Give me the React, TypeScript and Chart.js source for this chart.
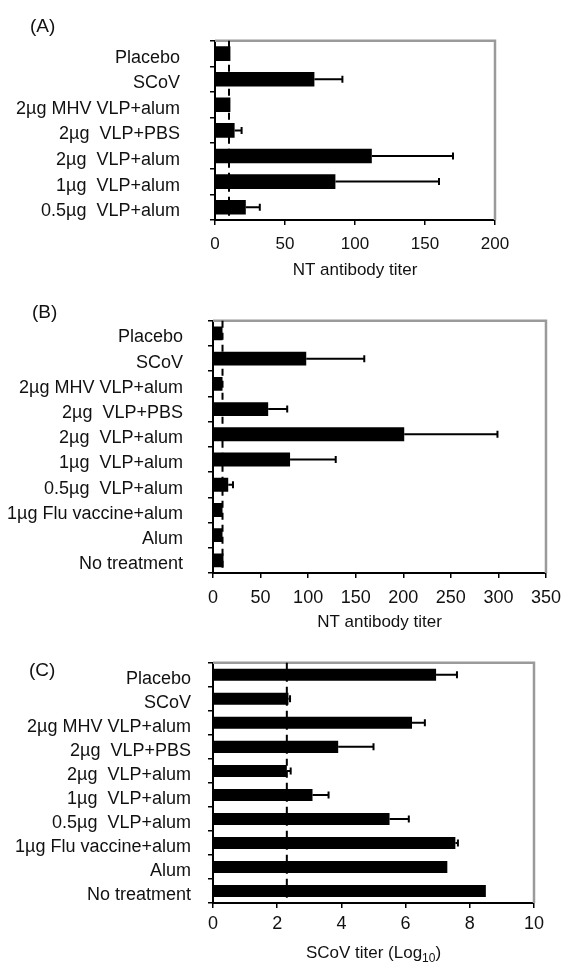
import React, { useEffect, useRef } from "react";
import { Chart, registerables } from "chart.js";

Chart.register(...registerables);

const FONT = "'Liberation Sans', Arial, Helvetica, sans-serif";

// ---------- Panel A ----------
const groupsA = [
  "Placebo",
  "SCoV",
  "2µg MHV VLP+alum",
  "2µg  VLP+PBS",
  "2µg  VLP+alum",
  "1µg  VLP+alum",
  "0.5µg  VLP+alum",
];
const titerA = [11, 71, 11, 14, 112, 86, 22];
const errA = [0, 20, 0, 5, 58, 74, 10];
const cutoffA = 10;
const xTicksA = { max: 200, step: 50 };

// ---------- Panel B ----------
const groupsB = [
  "Placebo",
  "SCoV",
  "2µg MHV VLP+alum",
  "2µg  VLP+PBS",
  "2µg  VLP+alum",
  "1µg  VLP+alum",
  "0.5µg  VLP+alum",
  "1µg Flu vaccine+alum",
  "Alum",
  "No treatment",
];
const titerB = [10, 98, 10, 58, 201, 81, 16, 10, 10, 11];
const errB = [0, 61, 0, 20, 98, 48, 5, 0, 0, 0];
const cutoffB = 10;
const xTicksB = { max: 350, step: 50 };

// ---------- Panel C ----------
const groupsC = groupsB;
const scovC = [6.95, 2.35, 6.2, 3.9, 2.3, 3.1, 5.5, 7.55, 7.3, 8.5];
const errC = [0.65, 0.05, 0.4, 1.1, 0.12, 0.5, 0.6, 0.08, 0, 0];
const cutoffC = 2.3;
const xTicksC = { max: 10, step: 2 };

type PanelProps = {
  top: number;
  height: number;
  left: number;
  right: number;
  areaTop: number;
  areaBottom: number;
  labels: string[];
  values: number[];
  errors: number[];
  cutoff: number;
  xMax: number;
  xStep: number;
  tickFont: number;
  tickPad: number;
  labelPad: number;
  barPct: number;
  title: string;
  titleSub?: string;
  titleOffset: number;
};

function Panel(p: PanelProps) {
  const ref = useRef<HTMLCanvasElement | null>(null);

  useEffect(() => {
    const canvas = ref.current;
    if (!canvas) return;

    const decor = {
      id: "decor",
      beforeDatasetsDraw(chart: any) {
        const { ctx, chartArea } = chart;
        const xs = chart.scales.x;
        ctx.save();
        // grey frame (top + right)
        ctx.strokeStyle = "#9a9a9a";
        ctx.lineWidth = 2.5;
        ctx.beginPath();
        ctx.moveTo(chartArea.left, chartArea.top);
        ctx.lineTo(chartArea.right, chartArea.top);
        ctx.lineTo(chartArea.right, chartArea.bottom);
        ctx.stroke();
        // dashed cut-off line
        const cx = xs.getPixelForValue(p.cutoff);
        ctx.strokeStyle = "#000";
        ctx.lineWidth = 2;
        ctx.setLineDash([7, 5]);
        ctx.beginPath();
        ctx.moveTo(cx, chartArea.top);
        ctx.lineTo(cx, chartArea.bottom);
        ctx.stroke();
        ctx.restore();
      },
      afterDatasetsDraw(chart: any) {
        const { ctx } = chart;
        const xs = chart.scales.x;
        const meta = chart.getDatasetMeta(0);
        ctx.save();
        ctx.strokeStyle = "#000";
        ctx.lineWidth = 2;
        meta.data.forEach((bar: any, i: number) => {
          const e = p.errors[i];
          if (!e) return;
          const x0 = bar.x;
          const x1 = xs.getPixelForValue(p.values[i] + e);
          const y = bar.y;
          ctx.beginPath();
          ctx.moveTo(x0, y);
          ctx.lineTo(x1, y);
          ctx.moveTo(x1, y - 3.5);
          ctx.lineTo(x1, y + 3.5);
          ctx.stroke();
        });
        ctx.restore();
      },
      afterDraw(chart: any) {
        if (!p.titleSub) return;
        const { ctx } = chart;
        const xs = chart.scales.x;
        const main = p.title;
        const big = `17px ${FONT}`;
        const small = `12px ${FONT}`;
        ctx.save();
        ctx.fillStyle = "#111";
        ctx.textBaseline = "alphabetic";
        ctx.font = big;
        const w1 = ctx.measureText(main).width;
        const w3 = ctx.measureText(")").width;
        ctx.font = small;
        const w2 = ctx.measureText(p.titleSub).width;
        const total = w1 + w2 + w3;
        const cx = (xs.left + xs.right) / 2;
        const base = xs.bottom - p.titleOffset + 6;
        let x = cx - total / 2;
        ctx.textAlign = "left";
        ctx.font = big;
        ctx.fillText(main, x, base);
        x += w1;
        ctx.font = small;
        ctx.fillText(p.titleSub, x, base + 4);
        x += w2;
        ctx.font = big;
        ctx.fillText(")", x, base);
        ctx.restore();
      },
    };

    const chart = new Chart(canvas, {
      type: "bar",
      data: {
        labels: p.labels,
        datasets: [
          {
            data: p.values,
            backgroundColor: "#000",
            borderWidth: 0,
            barPercentage: p.barPct,
            categoryPercentage: 1,
          },
        ],
      },
      options: {
        indexAxis: "y",
        responsive: false,
        animation: false,
        devicePixelRatio: 1,
        layout: {
          padding: {
            left: 0,
            right: 570 - p.right,
            top: p.areaTop - p.top,
            bottom: 0,
          },
        },
        plugins: {
          legend: { display: false },
          tooltip: { enabled: false },
          title: { display: false },
        },
        scales: {
          y: {
            type: "category",
            position: "left",
            afterFit: (s: any) => {
              s.width = p.left;
            },
            border: { display: true, color: "#000", width: 2 },
            grid: {
              offset: true,
              drawOnChartArea: false,
              drawTicks: true,
              tickLength: 5,
              color: "#000",
              lineWidth: 1.5,
            },
            ticks: {
              color: "#111",
              font: { family: FONT, size: 18 },
              padding: p.labelPad,
              crossAlign: "near",
              labelOffset: 4,
              autoSkip: false,
            },
          },
          x: {
            type: "linear",
            position: "bottom",
            min: 0,
            max: p.xMax,
            afterFit: (s: any) => {
              s.height = p.top + p.height - p.areaBottom;
            },
            border: { display: true, color: "#000", width: 2 },
            grid: {
              drawOnChartArea: false,
              drawTicks: true,
              tickLength: 5,
              color: "#000",
              lineWidth: 1.5,
            },
            ticks: {
              stepSize: p.xStep,
              color: "#111",
              font: { family: FONT, size: p.tickFont },
              padding: p.tickPad,
              maxRotation: 0,
            },
            title: {
              display: !p.titleSub,
              text: p.title,
              color: "#111",
              font: { family: FONT, size: 17 },
              padding: { top: 0, bottom: p.titleOffset - 10.2 },
            },
          },
        },
      },
      plugins: [decor],
    } as any);

    return () => chart.destroy();
  }, []);

  return (
    <canvas
      ref={ref}
      width={570}
      height={p.height}
      style={{
        position: "absolute",
        left: 0,
        top: p.top,
        width: 570,
        height: p.height,
      }}
    />
  );
}

const letterStyle = (left: number, top: number): React.CSSProperties => ({
  position: "absolute",
  left,
  top,
  fontFamily: FONT,
  fontSize: 19,
  lineHeight: "19px",
  color: "#111",
});

export default function App() {
  return (
    <div
      style={{
        position: "absolute",
        left: 0,
        top: 0,
        width: 570,
        height: 962,
        background: "#fff",
        overflow: "hidden",
      }}
    >
      <Panel
        top={0}
        height={285}
        left={215}
        right={495}
        areaTop={10}
        areaBottom={220}
        labels={groupsA}
        values={titerA}
        errors={errA}
        cutoff={cutoffA}
        xMax={xTicksA.max}
        xStep={xTicksA.step}
        tickFont={17}
        tickPad={9}
        labelPad={30}
        barPct={0.57}
        title="NT antibody titer"
        titleOffset={15}
      />
      <Panel
        top={285}
        height={350}
        left={213}
        right={549}
        areaTop={295}
        areaBottom={573}
        labels={groupsB}
        values={titerB}
        errors={errB}
        cutoff={cutoffB}
        xMax={xTicksB.max}
        xStep={xTicksB.step}
        tickFont={18}
        tickPad={9}
        labelPad={25}
        barPct={0.55}
        title="NT antibody titer"
        titleOffset={13}
      />
      <Panel
        top={635}
        height={327}
        left={213}
        right={534}
        areaTop={655}
        areaBottom={903}
        labels={groupsC}
        values={scovC}
        errors={errC}
        cutoff={cutoffC}
        xMax={xTicksC.max}
        xStep={xTicksC.step}
        tickFont={18}
        tickPad={5}
        labelPad={17}
        barPct={0.5}
        title="SCoV titer (Log"
        titleSub="10"
        titleOffset={10}
      />
      <div style={letterStyle(30, 16)}>(A)</div>
      <div style={letterStyle(32, 302)}>(B)</div>
      <div style={letterStyle(29, 660)}>(C)</div>
    </div>
  );
}
